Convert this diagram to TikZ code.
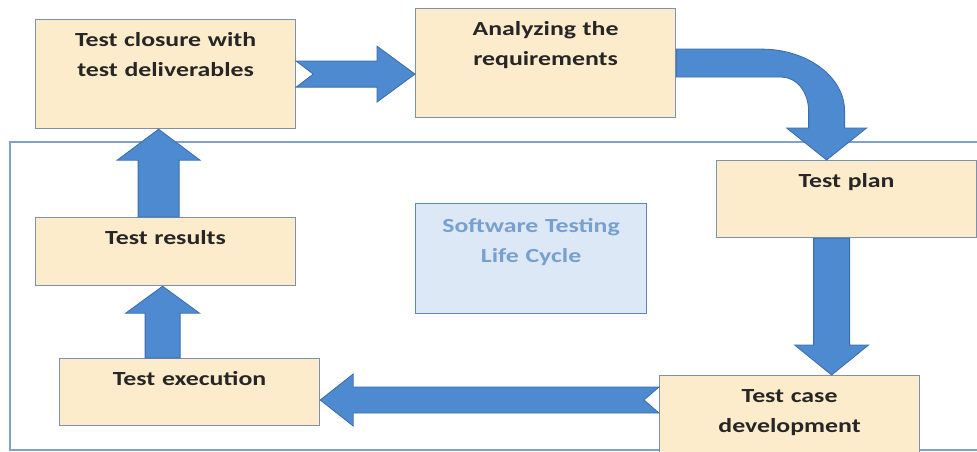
\documentclass[tikz,border=0pt]{standalone}
\usepackage{fontspec}
\setmainfont[FakeStretch=1.29]{Carlito}
\usetikzlibrary{calc}

\definecolor{stagefill}{RGB}{253,236,203}
\definecolor{stageline}{RGB}{125,145,172}
\definecolor{infofill}{RGB}{220,232,246}
\definecolor{infoline}{RGB}{95,135,185}
\definecolor{infotext}{RGB}{120,160,205}
\definecolor{arrowfill}{RGB}{77,138,208}
\definecolor{arrowline}{RGB}{58,108,172}
\definecolor{frameline}{RGB}{130,160,205}

\tikzset{
    stage/.style={draw=stageline, fill=stagefill, line width=1.2pt, text=black!85,
        text width=260pt, align=center, inner xsep=0pt, inner ysep=0pt,
        text height=27pt, text depth=#1, anchor=north west,
        font=\fontsize{20}{30}\selectfont\bfseries},
    info/.style={draw=infoline, fill=infofill, line width=1.2pt, text=infotext,
        text width=231pt, align=center, inner xsep=0pt, inner ysep=0pt,
        text height=29pt, text depth=81pt, anchor=north west,
        font=\fontsize{20}{30}\selectfont\bfseries},
    blockarrow/.style={draw=arrowline, fill=arrowfill, line width=0.8pt},
    frame/.style={draw=frameline, line width=1.2pt}
}

% block arrow: tail, tip, shaft half width, head half width, head length, notch
\newcommand{\blockarrow}[6]{%
    \coordinate (ba-t) at #1;
    \coordinate (ba-e) at #2;
    \coordinate (ba-h) at ($(ba-e)!#5pt!(ba-t)$);
    \coordinate (ba-n) at ($(ba-t)!#6pt!(ba-e)$);
    \draw[blockarrow] ($(ba-t)!#3pt!90:(ba-e)$) -- ($(ba-h)!#3pt!90:(ba-e)$)
        -- ($(ba-h)!#4pt!90:(ba-e)$) -- (ba-e)
        -- ($(ba-h)!#4pt!270:(ba-e)$) -- ($(ba-h)!#3pt!270:(ba-e)$)
        -- ($(ba-t)!#3pt!270:(ba-e)$) -- (ba-n) -- cycle;
}

\begin{document}
\begin{tikzpicture}[x=1pt, y=-1pt]
    \useasboundingbox (0,0) rectangle (977,452);

    % Outer frame
    \draw[frame] (10,142) rectangle (995,450);

    % Stages of the cycle
    \node[stage=82pt] (clo) at (35,19) {Test closure with\\test deliverables};
    \node[stage=82pt] (ana) at (415,8) {Analyzing the\\requirements};
    \node[stage=50pt] (plan) at (716,160) {Test plan};
    \node[stage=68pt] (case) at (659,375) {Test case\\development};
    \node[stage=40pt] (exec) at (59,358) {Test execution};
    \node[stage=41pt] (res) at (35,217) {Test results};

    % Title box
    \node[info] (stlc) at (415,203) {Software Testing\\Life Cycle};

    % Arrows
    \blockarrow{(clo.east)}{(clo.east -| ana.west)}{13}{28}{38}{17}
    \draw[blockarrow] let \p1=(ana.east), \p2=($(plan.north)+(-20,0)$) in
        (\x1,\y1+14pt) -- (\x2-65pt,\y1+14pt)
        .. controls (\x2-19pt,\y1+14pt) and (\x2+18pt,\y1-14pt) .. (\x2+18pt,\y1-48pt)
        -- (\x2+18pt,\y2+32pt) -- (\x2+40pt,\y2+32pt) -- (\x2,\y2)
        -- (\x2-40pt,\y2+32pt) -- (\x2-18pt,\y2+32pt) -- (\x2-18pt,\y1-48pt)
        .. controls (\x2-18pt,\y1-29pt) and (\x2-30pt,\y1-14pt) .. (\x2-45pt,\y1-14pt)
        -- (\x1,\y1-14pt) -- cycle;
    \coordinate (p3) at ($(plan.south)+(-15,0)$);
    \blockarrow{(p3)}{(p3 |- case.north)}{18}{37}{30}{0}
    \coordinate (p4) at ($(case.north west)+(0,25)$);
    \blockarrow{(p4)}{(p4 -| exec.east)}{13}{26}{33}{15}
    \coordinate (p5) at ($(res.south |- exec.north)+(-3,0)$);
    \blockarrow{(p5)}{(p5 |- res.south)}{17.5}{37}{27}{0}
    \coordinate (p6) at ($(res.north)+(-7,0)$);
    \blockarrow{(p6)}{(p6 |- clo.south)}{20.5}{41.5}{31}{0}
\end{tikzpicture}
\end{document}
